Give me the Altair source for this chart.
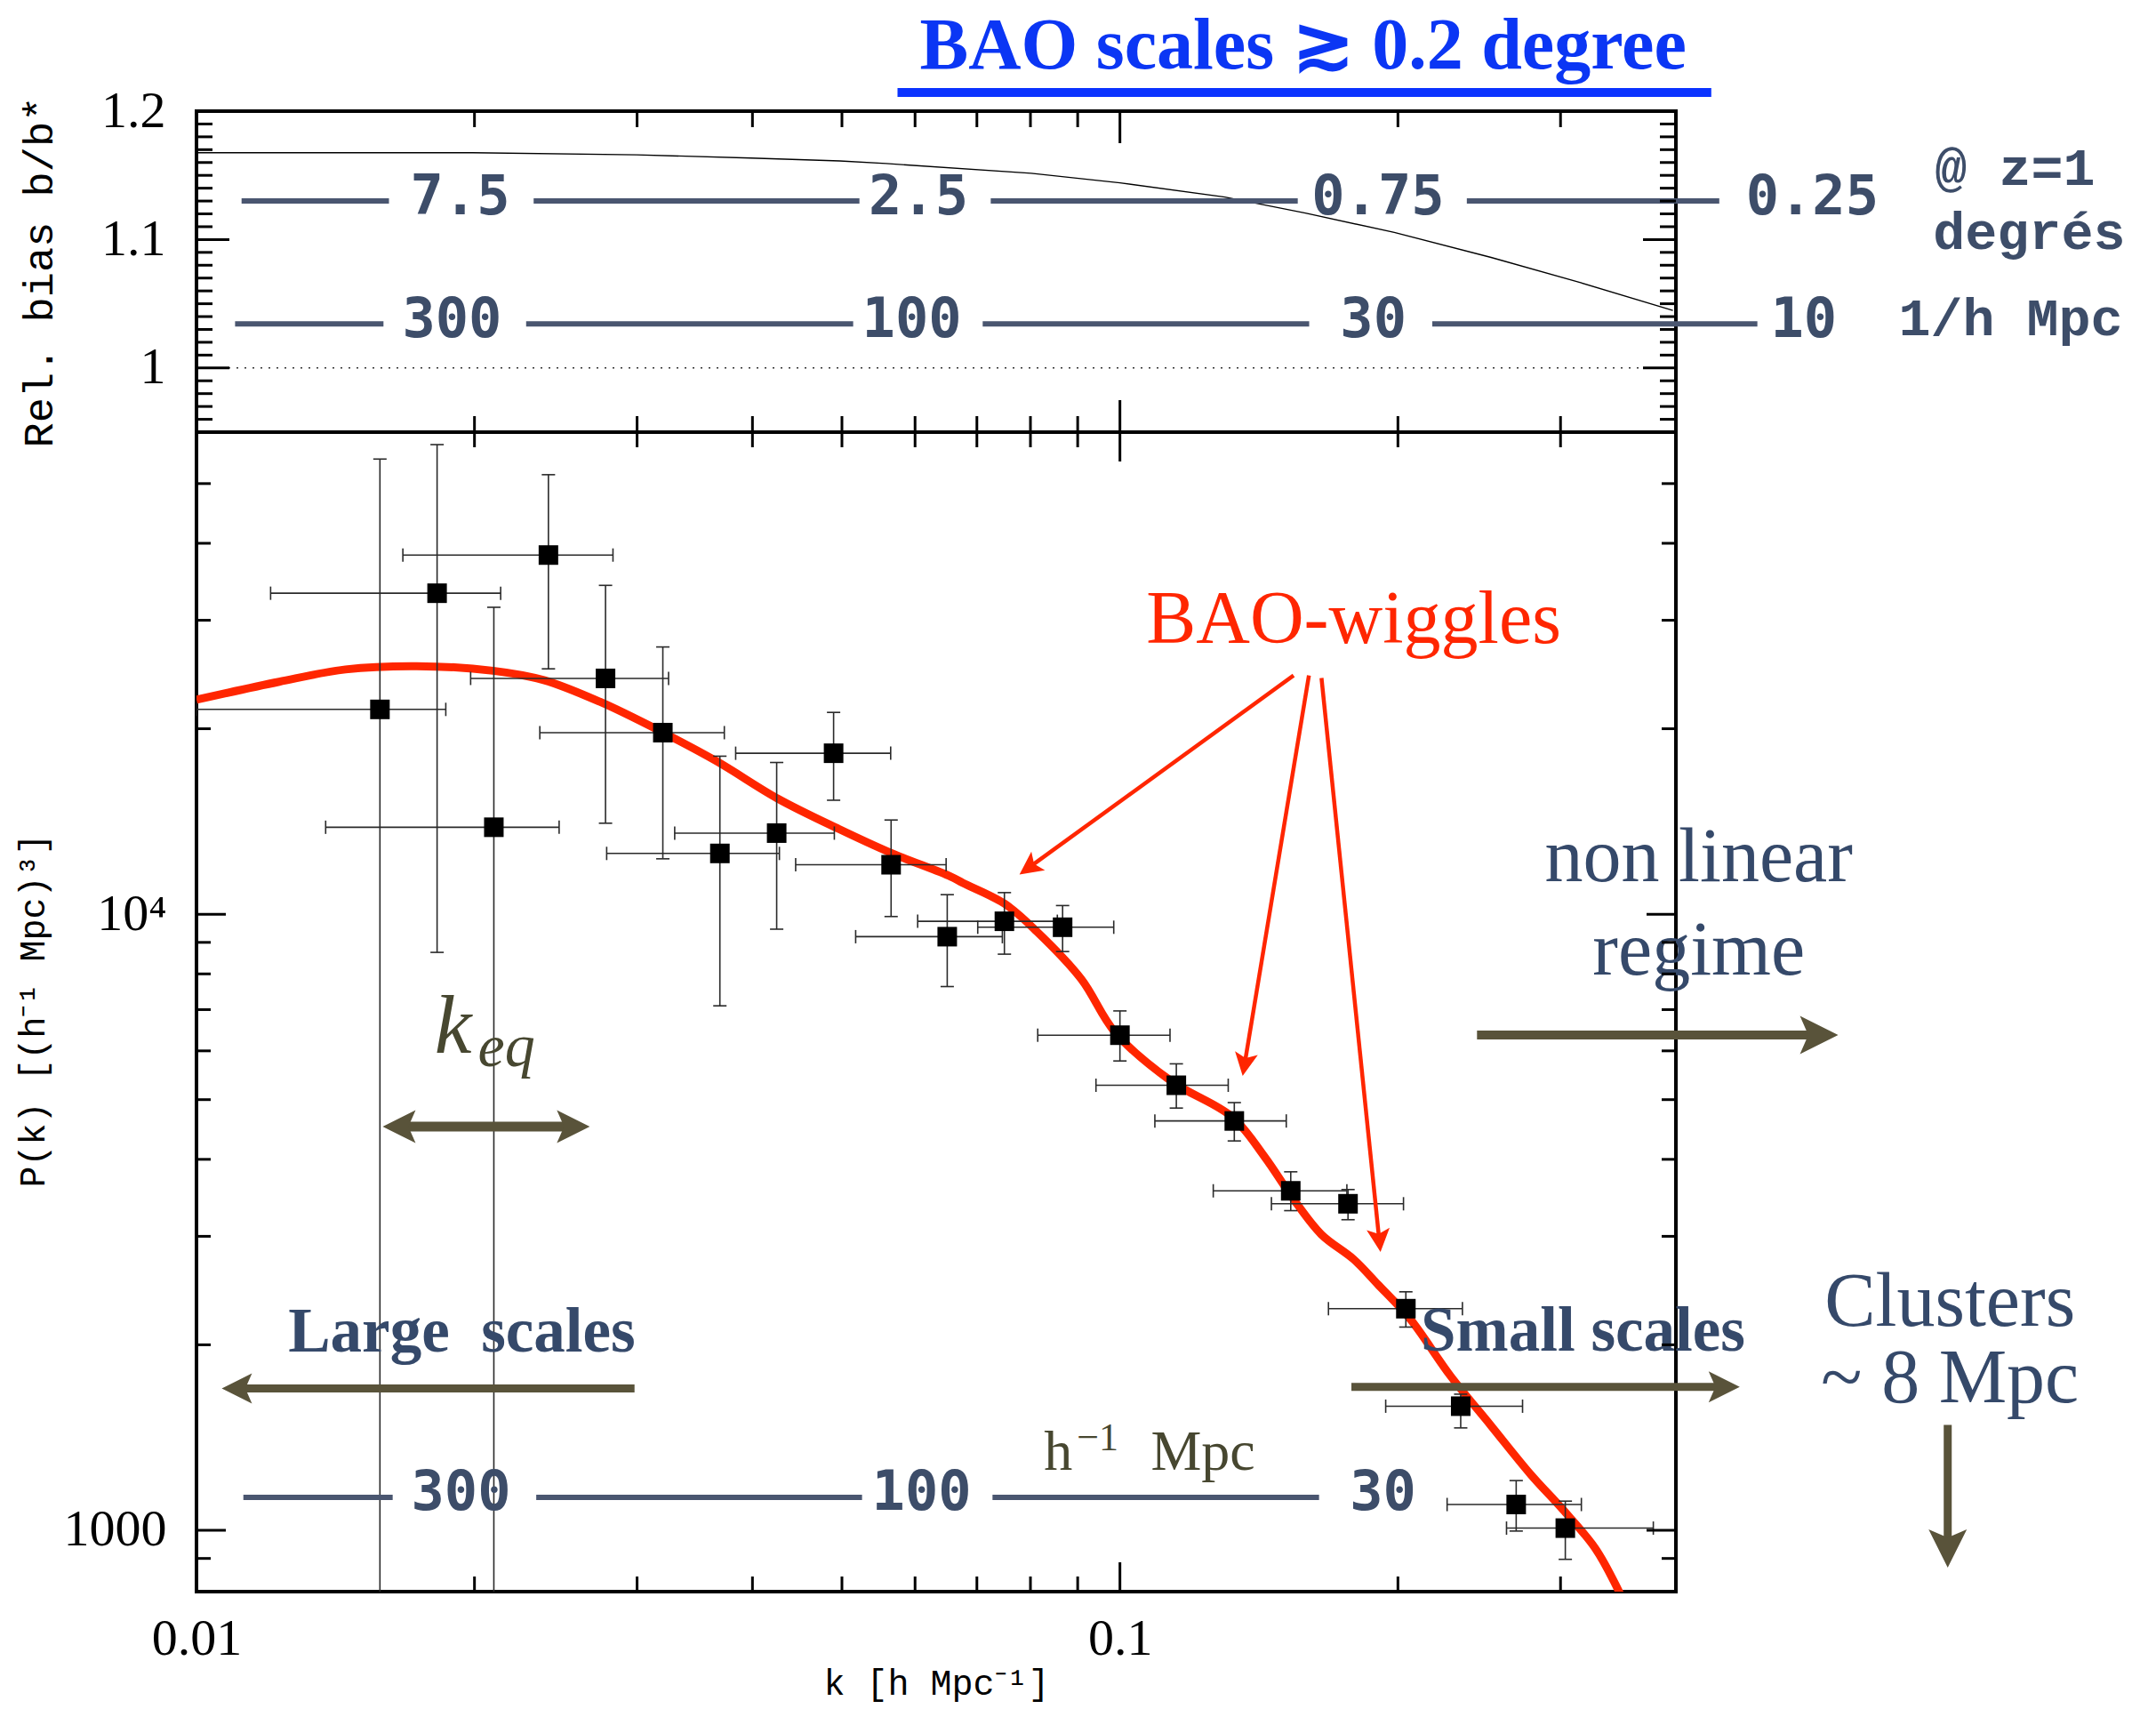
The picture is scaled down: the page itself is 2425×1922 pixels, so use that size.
import math
import altair as alt
import pandas as pd

# ---------------- data ----------------
# measured P(k) points with error bars
k_pts = [0.0158, 0.01822, 0.02099, 0.02405, 0.02773, 0.03199, 0.03688, 0.04249,
         0.04897, 0.05652, 0.06501, 0.07497, 0.08668, 0.1000, 0.1151, 0.1330,
         0.1531, 0.1766, 0.2040, 0.2339, 0.2686, 0.3036]
P_pts = [21500, 33190, 13840, 38280, 24140, 19710, 12550, 13540, 18250, 12030,
         9194, 9739, 9524, 6362, 5276, 4617, 3556, 3388, 2289, 1590, 1101, 1008]
k_lo = [0.0100, 0.01203, 0.0138, 0.01673, 0.01981, 0.02354, 0.02781, 0.03295,
        0.03836, 0.04455, 0.05174, 0.06039, 0.07015, 0.08147, 0.0942, 0.1091,
        0.1262, 0.1459, 0.1682, 0.1940, 0.2261, 0.2622]
k_hi = [0.01862, 0.02135, 0.0247, 0.02825, 0.03245, 0.03729, 0.04278, 0.04906,
        0.05646, 0.06483, 0.07459, 0.08555, 0.09847, 0.1133, 0.1310, 0.1514,
        0.1761, 0.2028, 0.2349, 0.2729, 0.3160, 0.3781]
P_lo = [300, 8670, 300, 25020, 14050, 12300, 7100, 9455, 15310, 9913, 7630,
        8612, 8697, 5778, 4845, 4285, 3302, 3192, 2137, 1466, 997, 897]
P_hi = [54800, 57840, 31490, 51690, 34180, 27150, 18050, 17630, 21260, 14220,
        10757, 10840, 10328, 6966, 5716, 4945, 3818, 3573, 2438, 1663, 1204, 1115]

# model curve (red)
k_model = [0.0100, 0.01229, 0.01450, 0.01732, 0.02095, 0.02377, 0.02734, 0.03181,
           0.03659, 0.04262, 0.04961, 0.05632, 0.06557, 0.0676, 0.0750, 0.0813,
           0.0908, 0.0988, 0.1137, 0.1323, 0.1435, 0.1541, 0.1652, 0.1791, 0.1901,
           0.2062, 0.2279, 0.2520, 0.2785, 0.3018, 0.3271, 0.3474, 0.3600]
P_model = [22290, 23840, 24960, 25270, 24840, 23990, 22120, 19810, 17710, 15400,
           13750, 12600, 11510, 11240, 10400, 9370, 7850, 6430, 5356, 4686, 4035,
           3450, 3022, 2753, 2510, 2202, 1782, 1481, 1232, 1080, 935, 793, 700]

# relative bias curve (top panel)
k_bias = [0.01, 0.01992, 0.02996, 0.03985, 0.04973, 0.05581, 0.08015, 0.1,
          0.1299, 0.1588, 0.1982, 0.2523, 0.3148, 0.397]
b_bias = [1.1676, 1.1676, 1.166, 1.1635, 1.1612, 1.1592, 1.1516, 1.1442,
          1.1331, 1.1206, 1.1056, 1.0861, 1.0666, 1.0448]

# scale bars, top panel
deg_labels = ["7.5", "2.5", "0.75", "0.25"]
deg_label_k = [0.0193, 0.0605, 0.1903, 0.5619]
deg_seg_k1 = [0.01119, 0.02318, 0.07246, 0.2375]
deg_seg_k2 = [0.01616, 0.05223, 0.1558, 0.4457]
mpc_labels = ["300", "100", "30", "10"]
mpc_label_k = [0.01891, 0.05951, 0.1881, 0.5501]
mpc_seg_k1 = [0.01101, 0.02275, 0.07102, 0.2179]
mpc_seg_k2 = [0.01594, 0.05142, 0.1603, 0.4901]
ROW_DEG_LINE, ROW_DEG_TEXT = 1.1301, 1.1194
ROW_MPC_LINE, ROW_MPC_TEXT = 1.0343, 1.0242

# scale bar, bottom panel
bot_labels = ["300", "100", "30"]
bot_label_k = [0.01934, 0.06098, 0.1927]
bot_seg_k1 = [0.01124, 0.02333, 0.07278]
bot_seg_k2 = [0.01631, 0.05257, 0.1643]
BOT_LINE_P, BOT_TEXT_P = 1131, 1080

# arrows (start -> tip) in data units
arr_k1 = [0.1542, 0.1602, 0.1653, 0.2436, 0.02981, 0.1781, 0.7878, 0.01591]
arr_p1 = [24410, 24410, 24170, 6364, 1699, 1709, 1482, 4520]
arr_k2 = [0.07784, 0.1358, 0.1915, 0.5995, 0.01065, 0.4690, 0.7878, 0.02666]
arr_p2 = [11600, 5462, 2829, 6364, 1699, 1709, 869.9, 4520]

# ---------------- styling / layout ----------------
W, H_TOP, H_BOT = 1664, 361, 1304
K_MIN, K_MAX = 0.01, 0.4
B_MIN, B_MAX = 0.95, 1.2
P_MIN, P_MAX = 795, 60600

RED = "#ff2600"
BLUE = "#0b36f4"
SLATE = "#35496a"
ROWTXT = "#3d4d69"
ROWLINE = "#4a5670"
OLIVE = "#59533a"
KEQ = "#474730"
TICK_W = 3

arr_color = [RED] * 3 + [OLIVE] * 5
arr_width = [4.5] * 3 + [10, 9, 9, 9, 11]
arr_head = [26] * 3 + [43, 34, 35, 43, 37]
arr_double = [False] * 7 + [True]
ARROW_PATH = "M0,-1L0.8,0.6L0,0.25L-0.8,0.6Z"

xs = alt.Scale(type="log", domain=[K_MIN, K_MAX], nice=False)
ys_top = alt.Scale(domain=[B_MIN, B_MAX], nice=False, zero=False)
ys_bot = alt.Scale(type="log", domain=[P_MIN, P_MAX], nice=False)

ax_none = None
ax_y_top = alt.Axis(values=[1.0, 1.1, 1.2],
                    labelExpr="datum.value > 1.15 ? '1.2' : (datum.value > 1.05 ? '1.1' : '1')",
                    ticks=False, domain=False, grid=False, labelOverlap=False,
                    labelFont="Liberation Serif", labelFontSize=58, labelColor="black",
                    labelPadding=35, title="Rel. bias b/b*", titleFont="Liberation Mono",
                    titleFontSize=47, titleFontWeight="normal", titleColor="black",
                    titleX=-177, titleY=H_TOP / 2, titleAngle=270, titleBaseline="middle",
                    titleAlign="center")
ax_y_bot = alt.Axis(values=[1000, 10000],
                    labelExpr="datum.value > 5000 ? '10⁴' : '1000'",
                    ticks=False, domain=False, grid=False, labelOverlap=False,
                    labelFont="Liberation Serif", labelFontSize=58, labelColor="black",
                    labelPadding=34, title="P(k) [(h⁻¹ Mpc)³]", titleFont="Liberation Mono",
                    titleFontSize=40, titleFontWeight="normal", titleColor="black",
                    titleX=-184, titleY=650, titleAngle=270, titleBaseline="middle",
                    titleAlign="center")
ax_x_bot = alt.Axis(values=[0.01, 0.1],
                    labelExpr="datum.value < 0.05 ? '0.01' : '0.1'",
                    ticks=False, domain=False, grid=False, labelFlush=False,
                    labelOverlap=False, labelFont="Liberation Serif", labelFontSize=58,
                    labelColor="black", labelPadding=24, title="k [h Mpc⁻¹]",
                    titleFont="Liberation Mono", titleFontSize=40, titleFontWeight="normal",
                    titleColor="black", titleX=W / 2, titleY=115,
                    titleBaseline="alphabetic", titleAlign="center")


def enc(chart, xf, yf, ys, ax_x, ax_y, **extra):
    return chart.encode(x=alt.X(xf, type="quantitative", scale=xs, axis=ax_x),
                        y=alt.Y(yf, type="quantitative", scale=ys, axis=ax_y), **extra)


def text_layer(df, ys, ax_x, ax_y, **mk):
    return enc(alt.Chart(df).mark_text(**mk), "k", "v", ys, ax_x, ax_y,
               text=alt.Text("t:N"))


def tick_layers(ys, ax_x, ax_y, x_minor, x_major, xl_min, xl_maj,
                y_minor, y_major, yl_min, yl_maj, y_lo, y_hi):
    layers = []
    for vals, L in ((x_minor, xl_min), (x_major, xl_maj)):
        for edge, off in ((y_lo, -L / 2), (y_hi, L / 2)):
            df = pd.DataFrame({"k": vals, "v": [edge] * len(vals)})
            layers.append(enc(alt.Chart(df).mark_tick(orient="vertical", size=L,
                                                      thickness=TICK_W, color="black",
                                                      opacity=1, yOffset=off),
                              "k", "v", ys, ax_x, ax_y))
    for vals, L in ((y_minor, yl_min), (y_major, yl_maj)):
        for edge, off in ((K_MIN, L / 2), (K_MAX, -L / 2)):
            df = pd.DataFrame({"k": [edge] * len(vals), "v": vals})
            layers.append(enc(alt.Chart(df).mark_tick(orient="horizontal", size=L,
                                                      thickness=TICK_W, color="black",
                                                      opacity=1, xOffset=off),
                              "k", "v", ys, ax_x, ax_y))
    return layers


x_minor_vals = [0.02, 0.03, 0.04, 0.05, 0.06, 0.07, 0.08, 0.09, 0.2, 0.3]

# ---------------- top panel ----------------
top_layers = []
bias_df = pd.DataFrame({"k": k_bias, "v": b_bias})
top_layers.append(enc(alt.Chart(bias_df).mark_line(color="black", strokeWidth=1.4),
                      "k", "v", ys_top, ax_none, ax_y_top))
dot_df = pd.DataFrame({"k": [K_MIN], "k2": [K_MAX], "v": [1.0]})
top_layers.append(enc(alt.Chart(dot_df).mark_rule(color="#333", strokeWidth=1.6,
                                                  strokeDash=[2, 7]),
                      "k", "v", ys_top, ax_none, ax_y_top, x2="k2"))

seg_df = pd.DataFrame({
    "k": deg_seg_k1 + mpc_seg_k1,
    "k2": deg_seg_k2 + mpc_seg_k2,
    "v": [ROW_DEG_LINE] * 4 + [ROW_MPC_LINE] * 4,
})
top_layers.append(enc(alt.Chart(seg_df).mark_rule(color=ROWLINE, strokeWidth=6),
                      "k", "v", ys_top, ax_none, ax_y_top, x2="k2"))
lab_df = pd.DataFrame({
    "k": deg_label_k + mpc_label_k,
    "v": [ROW_DEG_TEXT] * 4 + [ROW_MPC_TEXT] * 4,
    "t": deg_labels + mpc_labels,
})
top_layers.append(text_layer(lab_df, ys_top, ax_none, ax_y_top, font="DejaVu Sans Mono",
                             fontSize=62, fontWeight="bold", color=ROWTXT, align="center",
                             baseline="alphabetic"))
side_df = pd.DataFrame({"k": [0.7631, 0.7597, 0.6969],
                        "v": [1.1426, 1.093, 1.0253],
                        "t": ["@ z=1", "degrés", "1/h Mpc"]})
top_layers.append(text_layer(side_df, ys_top, ax_none, ax_y_top, font="Liberation Mono",
                             fontSize=60, fontWeight="bold", color=ROWTXT, align="left",
                             baseline="alphabetic"))
title_df = pd.DataFrame({"k": [0.1579], "v": [1.2334], "t": ["BAO scales ≳ 0.2 degree"]})
top_layers.append(text_layer(title_df, ys_top, ax_none, ax_y_top, font="Liberation Serif",
                             fontSize=82, fontWeight="bold", color=BLUE, align="center",
                             baseline="alphabetic"))
ul_df = pd.DataFrame({"k": [0.05743], "k2": [0.4369], "v": [1.21453]})
top_layers.append(enc(alt.Chart(ul_df).mark_rule(color="#0b33ff", strokeWidth=10),
                      "k", "v", ys_top, ax_none, ax_y_top, x2="k2"))

top_y_minor = [0.96, 0.97, 0.98, 0.99, 1.01, 1.02, 1.03, 1.04, 1.05, 1.06, 1.07, 1.08,
               1.09, 1.11, 1.12, 1.13, 1.14, 1.15, 1.16, 1.17, 1.18, 1.19]
top_layers += tick_layers(ys_top, ax_none, ax_y_top, x_minor_vals, [0.1], 18, 36,
                          top_y_minor, [1.0, 1.1], 18, 37, B_MIN, B_MAX)

top = alt.layer(*top_layers).properties(width=W, height=H_TOP)

# ---------------- bottom panel ----------------
bl = []
model_df = pd.DataFrame({"k": k_model, "v": P_model})
bl.append(enc(alt.Chart(model_df).mark_line(color=RED, strokeWidth=9, clip=True,
                                             interpolate="catmull-rom"),
              "k", "v", ys_bot, ax_x_bot, ax_y_bot))

pts_df = pd.DataFrame({"k": k_pts, "v": P_pts, "klo": k_lo, "khi": k_hi,
                       "plo": P_lo, "phi": P_hi})
EB = dict(color="#2a2a2a", strokeWidth=1.6, clip=True)
bl.append(enc(alt.Chart(pts_df).mark_rule(**EB), "klo", "v", ys_bot, ax_x_bot, ax_y_bot,
              x2="khi"))
bl.append(enc(alt.Chart(pts_df).mark_rule(**EB), "k", "plo", ys_bot, ax_x_bot, ax_y_bot,
              y2="phi"))
CAP = dict(color="#2a2a2a", thickness=1.6, size=15, opacity=1, clip=True)
for xf in ("klo", "khi"):
    bl.append(enc(alt.Chart(pts_df).mark_tick(orient="vertical", **CAP), xf, "v",
                  ys_bot, ax_x_bot, ax_y_bot))
for yf in ("plo", "phi"):
    bl.append(enc(alt.Chart(pts_df).mark_tick(orient="horizontal", **CAP), "k", yf,
                  ys_bot, ax_x_bot, ax_y_bot))
bl.append(enc(alt.Chart(pts_df).mark_square(size=484, color="black", opacity=1,
                                             filled=True, clip=True),
              "k", "v", ys_bot, ax_x_bot, ax_y_bot))

# scale bar
bseg_df = pd.DataFrame({"k": bot_seg_k1, "k2": bot_seg_k2, "v": [BOT_LINE_P] * 3})
bl.append(enc(alt.Chart(bseg_df).mark_rule(color=ROWLINE, strokeWidth=6),
              "k", "v", ys_bot, ax_x_bot, ax_y_bot, x2="k2"))
blab_df = pd.DataFrame({"k": bot_label_k, "v": [BOT_TEXT_P] * 3, "t": bot_labels})
bl.append(text_layer(blab_df, ys_bot, ax_x_bot, ax_y_bot, font="DejaVu Sans Mono",
                     fontSize=62, fontWeight="bold", color=ROWTXT, align="center",
                     baseline="alphabetic"))

# texts
bl.append(text_layer(pd.DataFrame({"k": [0.1791], "v": [27550], "t": ["BAO-wiggles"]}),
                     ys_bot, ax_x_bot, ax_y_bot, font="Liberation Serif", fontSize=84,
                     color=RED, align="center", baseline="alphabetic"))
bl.append(text_layer(pd.DataFrame({"k": [0.4235, 0.4235, 0.7921, 0.7921],
                                   "v": [11310, 7979, 2144, 1615],
                                   "t": ["non linear", "regime", "Clusters", "~ 8 Mpc"]}),
                     ys_bot, ax_x_bot, ax_y_bot, font="Liberation Serif", fontSize=86,
                     color=SLATE, align="center", baseline="alphabetic"))
bl.append(text_layer(pd.DataFrame({"k": [0.01938, 0.3173], "v": [1947, 1957],
                                   "t": ["Large\u00a0 scales", "Small scales"]}),
                     ys_bot, ax_x_bot, ax_y_bot, font="Liberation Serif", fontSize=71,
                     fontWeight="bold", color=SLATE, align="center", baseline="alphabetic"))
bl.append(text_layer(pd.DataFrame({"k": [0.01896], "v": [5956], "t": ["k"]}),
                     ys_bot, ax_x_bot, ax_y_bot, font="Liberation Serif", fontSize=94,
                     fontStyle="italic", color=KEQ, align="center", baseline="alphabetic"))
bl.append(text_layer(pd.DataFrame({"k": [0.02017], "v": [5665], "t": ["eq"]}),
                     ys_bot, ax_x_bot, ax_y_bot, font="Liberation Serif", fontSize=68,
                     fontStyle="italic", color=KEQ, align="left", baseline="alphabetic"))
bl.append(text_layer(pd.DataFrame({"k": [0.08273, 0.1080], "v": [1253, 1253],
                                   "t": ["h", "Mpc"]}),
                     ys_bot, ax_x_bot, ax_y_bot, font="Liberation Serif", fontSize=64,
                     color=KEQ, align="left", baseline="alphabetic"))
bl.append(text_layer(pd.DataFrame({"k": [0.0898], "v": [1349], "t": ["−1"]}),
                     ys_bot, ax_x_bot, ax_y_bot, font="Liberation Serif", fontSize=44,
                     color=KEQ, align="left", baseline="alphabetic"))

# arrows: shafts + heads (head angle from on-screen direction)
LX = W / math.log10(K_MAX / K_MIN)
LY = H_BOT / math.log10(P_MAX / P_MIN)


def lerp_log(a, b, t):
    return 10 ** (math.log10(a) + (math.log10(b) - math.log10(a)) * t)


shafts, heads = [], []
for i in range(len(arr_k1)):
    k1, p1, k2, p2 = arr_k1[i], arr_p1[i], arr_k2[i], arr_p2[i]
    dx = (math.log10(k2) - math.log10(k1)) * LX
    dy = -(math.log10(p2) - math.log10(p1)) * LY
    L = math.hypot(dx, dy)
    u = arr_head[i] / 1.6
    t = u / L
    size = (arr_head[i] / 0.8) ** 2
    ang = math.degrees(math.atan2(dx, -dy)) % 360
    hk2, hp2 = lerp_log(k2, k1, t), lerp_log(p2, p1, t)
    heads.append({"k": hk2, "v": hp2, "ang": ang, "size": size, "col": arr_color[i]})
    sk1, sp1 = k1, p1
    if arr_double[i]:
        hk1, hp1 = lerp_log(k1, k2, t), lerp_log(p1, p2, t)
        heads.append({"k": hk1, "v": hp1, "ang": (ang + 180) % 360, "size": size,
                      "col": arr_color[i]})
        sk1, sp1 = hk1, hp1
    shafts.append({"k": sk1, "v": sp1, "k2": hk2, "v2": hp2, "col": arr_color[i],
                   "w": arr_width[i]})

shaft_df = pd.DataFrame(shafts)
head_df = pd.DataFrame(heads)
bl.append(enc(alt.Chart(shaft_df).mark_rule(), "k", "v", ys_bot, ax_x_bot, ax_y_bot,
              x2="k2", y2="v2", color=alt.Color("col:N", scale=None),
              strokeWidth=alt.StrokeWidth("w:Q", scale=None)))
bl.append(enc(alt.Chart(head_df).mark_point(shape=ARROW_PATH, filled=True, opacity=1,
                                             strokeWidth=0),
              "k", "v", ys_bot, ax_x_bot, ax_y_bot,
              color=alt.Color("col:N", scale=None),
              angle=alt.Angle("ang:Q", scale=None),
              size=alt.Size("size:Q", scale=None)))

bot_y_minor = [900, 2000, 3000, 4000, 5000, 6000, 7000, 8000, 9000,
               20000, 30000, 40000, 50000]
bl += tick_layers(ys_bot, ax_x_bot, ax_y_bot, x_minor_vals, [0.1], 17, 33,
                  bot_y_minor, [1000, 10000], 16, 33, P_MIN, P_MAX)

bottom = alt.layer(*bl).properties(width=W, height=H_BOT)

chart = alt.vconcat(top, bottom, spacing=0, bounds="flush").resolve_scale(
    x="independent", y="independent").properties(
    padding={"left": 7, "top": 0, "right": 0, "bottom": 3},
    background="white").configure_view(stroke="black", strokeWidth=4)

chart.save("out.html", embed_options={"renderer": "svg", "actions": False})
